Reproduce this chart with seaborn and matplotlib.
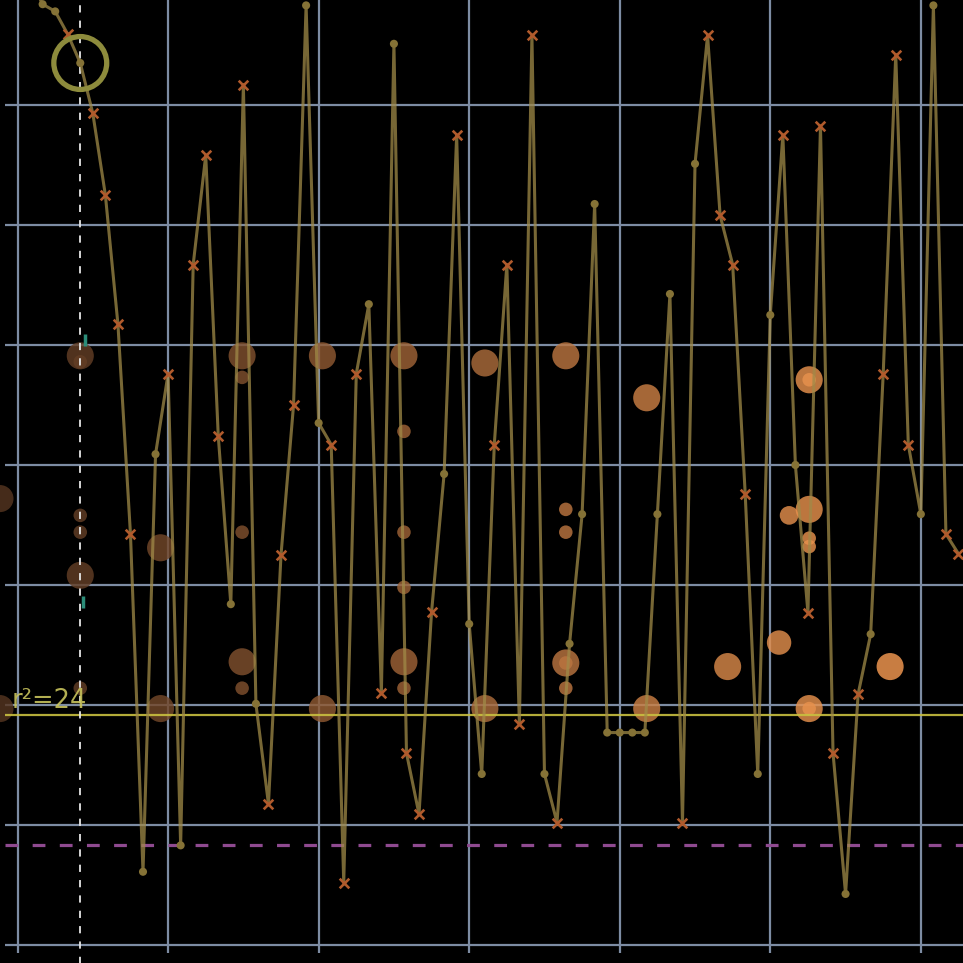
import matplotlib
matplotlib.use('Agg')
import matplotlib.pyplot as plt
import seaborn as sns
import pandas as pd

# line series (one point per step, grid every 12 steps)
steps = list(range(1, 76))
values = [80.5, 78.4, 77.8, 75.9, 73.5, 69.3, 62.5, 51.75, 34.25, 6.1,
          40.9, 47.6, 8.3, 56.7, 65.8, 42.4, 28.4, 71.7, 20.1, 11.75,
          32.5, 45.0, 78.3, 43.5, 41.7, 5.2, 47.6, 53.4, 21.0, 75.1,
          16.0, 10.9, 27.75, 39.25, 67.5, 26.75, 14.25, 41.7, 56.7, 18.4,
          75.8, 14.25, 10.2, 25.1, 35.9, 61.75, 17.7, 17.7, 17.7, 17.7,
          35.9, 54.25, 10.2, 65.1, 75.8, 60.8, 56.7, 37.6, 14.25, 52.5,
          67.5, 40.0, 27.7, 68.25, 16.0, 4.25, 20.9, 25.9, 47.6, 74.2,
          41.7, 35.9, 78.3, 34.25, 32.6]
kinds = ['o', 'o', 'o', 'x', 'o', 'x', 'x', 'x', 'x', 'o',
         'o', 'x', 'o', 'x', 'x', 'x', 'o', 'x', 'o', 'x',
         'x', 'x', 'o', 'o', 'x', 'x', 'x', 'o', 'x', 'o',
         'x', 'x', 'x', 'o', 'x', 'o', 'o', 'x', 'x', 'x',
         'x', 'o', 'x', 'o', 'o', 'o', 'o', 'o', 'o', 'o',
         'o', 'o', 'x', 'o', 'x', 'x', 'x', 'x', 'o', 'o',
         'x', 'o', 'x', 'x', 'x', 'o', 'x', 'o', 'x', 'x',
         'x', 'o', 'o', 'x', 'x']

# bubbles
bubble_x = [-1.4, -1.4, 5, 5, 5, 5, 5, 5, 11.4, 11.4,
            17.9, 17.9, 17.9, 17.9, 17.9, 24.3, 24.3, 30.8, 30.8, 30.8, 30.8, 30.8, 30.8,
            37.25, 37.25, 43.7, 43.7, 43.7, 43.7, 43.7, 43.7, 50.15, 50.15,
            56.6, 60.7, 61.5, 63.1, 63.1, 63.1, 63.1, 63.1, 63.1, 63.1, 69.55]
bubble_y = [37.2, 19.7, 49.1, 48.6, 35.8, 34.4, 30.8, 21.4, 33.1, 19.7,
            49.1, 47.3, 34.4, 23.6, 21.4, 49.1, 19.7, 49.1, 42.8, 34.4, 29.8, 23.6, 21.4,
            48.5, 19.7, 49.1, 36.3, 34.4, 23.5, 23.5, 21.4, 45.6, 19.7,
            23.2, 25.2, 35.8, 47.1, 47.1, 36.3, 33.9, 33.2, 19.7, 19.7, 23.2]
bubble_size = [3, 3, 3, 1, 1, 1, 3, 1, 3, 3,
               3, 1, 1, 3, 1, 3, 3, 3, 1, 1, 1, 3, 1,
               3, 3, 3, 1, 1, 3, 1, 1, 3, 3,
               3, 2.5, 1.6, 3, 1, 3, 1, 1, 3, 1, 3]

# small teal ticks on the marker line
tick_x = [5.4, 5.2]
tick_y = [50.4, 28.6]

highlight_step = 5
ref_level = 19.2
floor_level = 8.33
r2_label = 'r²=24'

line_df = pd.DataFrame({'step': steps, 'value': values, 'kind': kinds})
bub_df = pd.DataFrame({'x': bubble_x, 'y': bubble_y, 's': bubble_size})

sns.set_style('dark')
fig = plt.figure(figsize=(9.63, 9.63), dpi=100, facecolor='black')
ax = fig.add_axes([5 / 963, 10 / 963, 958 / 963, 953 / 963])
ax.set_facecolor('black')

ax.set_xlim(-1.0, 75.36)
ax.set_ylim(-0.67, 78.75)
ax.set_xticks(range(0, 76, 12))
ax.set_yticks(range(0, 80, 10))
ax.grid(True, color='#7d8ca3', linewidth=1.6, zorder=0)
ax.set_axisbelow(True)
ax.tick_params(length=0, labelbottom=False, labelleft=False)
for sp in ax.spines.values():
    sp.set_visible(False)

# bubbles
brown_orange = sns.blend_palette(['#553520', '#f59a52'], as_cmap=True)
sns.scatterplot(data=bub_df, x='x', y='y', hue='x', size='s', palette=brown_orange,
                hue_norm=(-1.4, 69.55), sizes=(95, 380), size_norm=(1, 3),
                alpha=0.82, edgecolor='none', legend=False, ax=ax, zorder=2, clip_on=False)

# reference lines
ax.axhline(ref_level, color='#c9c040', linewidth=1.6, alpha=0.9, zorder=3)
ax.axhline(floor_level, color='#8f4a90', linewidth=2.3, dashes=(4, 4.5), zorder=3)
ax.axvline(highlight_step, ymin=-0.02, color='#e6e6e6', linewidth=1.3,
           dashes=(4, 4.5), zorder=3, clip_on=False)

# main line with markers
sns.lineplot(data=line_df, x='step', y='value', color='#a08a48', linewidth=2.2,
             alpha=0.75, ax=ax, zorder=4, sort=False)
sub_o = line_df[line_df['kind'] == 'o']
sub_x = line_df[line_df['kind'] == 'x']
sns.scatterplot(data=sub_o, x='step', y='value', color='#857236',
                s=34, edgecolor='none', ax=ax, zorder=5, legend=False)
sns.scatterplot(data=sub_x, x='step', y='value', color='#b05a2c', marker='x',
                s=48, linewidth=1.9, ax=ax, zorder=5, legend=False)

# teal ticks
sns.scatterplot(x=tick_x, y=tick_y, color='#2b8c78', marker='|', s=70,
                linewidth=2.5, ax=ax, zorder=5, legend=False)

# highlight ring
hl = line_df[line_df['step'] == highlight_step]
ax.scatter(hl['step'], hl['value'], s=1450, facecolors='none',
           edgecolors='#8d8b3c', linewidths=3.8, zorder=6)

ax.text(-0.45, ref_level + 0.05, r2_label, color='#c8c35c', fontsize=18.5,
        family='DejaVu Sans', ha='left', va='bottom', zorder=7, alpha=0.9)

fig.savefig('out.png', dpi=100, facecolor='black')
